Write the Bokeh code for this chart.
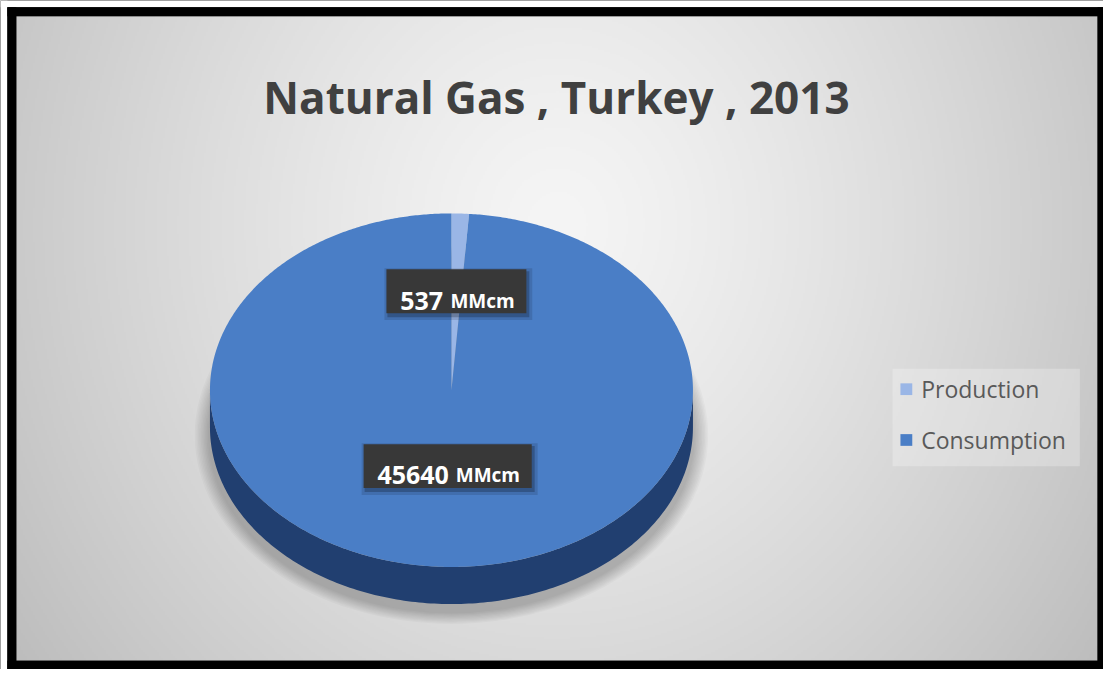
import numpy as np
from bokeh.plotting import figure
from bokeh.models import Range1d
from bokeh.embed import file_html
from bokeh.resources import INLINE
from bokeh.core.properties import value

# ---------------- data ----------------
title_text = "Natural Gas , Turkey , 2013"
categories = ["Production", "Consumption"]
values = [537, 45640]
unit = "MMcm"

# ---------------- style ----------------
top_colors = ["#9ab6e6", "#4a7ec6"]
side_colors = ["#5f80b6", "#213f70"]
FONT = value("Open Sans")

W, H = 1103, 669
RW, RH = 1119, 685          # reference picture coordinates mapped onto the canvas
IX0, IX1, IY0, IY1 = 16, 1113, 16, 676   # inner (grey) chart area

p = figure(width=W, height=H, output_backend="svg", toolbar_location=None,
           x_range=Range1d(0, RW), y_range=Range1d(-RH, 0),
           x_axis_location=None, y_axis_location=None,
           min_border=0, min_border_left=0, min_border_right=0,
           min_border_top=0, min_border_bottom=0)
p.grid.visible = False
p.outline_line_color = None
p.border_fill_color = "white"
p.background_fill_color = "black"

# background gradient
rows, cols = 330, 548
cc, rr = np.meshgrid(np.arange(cols), np.arange(rows))
PX = IX0 + (cc + 0.5) * (IX1 - IX0) / cols
PY = IY1 - (rr + 0.5) * (IY1 - IY0) / rows
d = np.sqrt(((PX - 565) / 620.0) ** 2 + ((PY - 230) / 700.0) ** 2)
lum = np.clip(245 - 50 * d ** 1.3, 0, 255).astype(np.uint8)
img = np.empty((rows, cols), dtype=np.uint32)
v = img.view(dtype=np.uint8).reshape((rows, cols, 4))
v[..., 0] = lum
v[..., 1] = lum
v[..., 2] = lum
v[..., 3] = 255
p.image_rgba(image=[img], x=IX0, y=-IY1, dw=IX1 - IX0, dh=IY1 - IY0)

# ---------------- pie geometry ----------------
cx, cy, rx, ry, depth = 457.5, 399.0, 245.0, 181.0, 38.0
vals = np.array(values, dtype=float)
frac = vals / vals.sum()
ends = np.cumsum(frac) * 360.0
starts = ends - frac * 360.0


def ell(theta_deg, dy=0.0, f=1.0):
    t = np.radians(theta_deg)
    return cx + f * rx * np.sin(t), -(cy - f * ry * np.cos(t) + dy)


# soft shadow below the pie
for k in range(10):
    grow = 4 + k * 3
    p.ellipse(x=cx, y=-(cy + depth + 8), width=2 * rx + grow, height=2 * ry + grow * 0.8,
              fill_color="black", fill_alpha=0.022, line_color=None)

# sides (front half only)
for i in range(len(vals)):
    a, b = max(starts[i], 90.0), min(ends[i], 270.0)
    if a < b:
        th = np.linspace(a, b, 200)
        xt, yt = ell(th)
        xb, yb = ell(th[::-1], dy=depth)
        p.patch(x=np.concatenate([xt, xb]), y=np.concatenate([yt, yb]),
                fill_color=side_colors[i], line_color=None)

# top faces
for i in range(len(vals)):
    th = np.linspace(starts[i], ends[i], max(int(frac[i] * 720), 4))
    xs, ys = ell(th)
    p.patch(x=np.concatenate([[cx], xs]), y=np.concatenate([[-cy], ys]),
            fill_color=top_colors[i], line_color=None)

# ---------------- data labels ----------------
label_radius = [0.56, 0.43]
num_fs, unit_fs, gap, pad, box_h = 25, 19, 8, 14, 45
for i in range(len(vals)):
    mid = (starts[i] + ends[i]) / 2
    lx, ly = ell(mid, f=label_radius[i])
    num = str(values[i])
    wn = len(num) * 0.572 * num_fs
    wu = 3.32 * unit_fs
    tw = wn + gap + wu
    bw = tw + 2 * pad
    p.rect(x=lx + 2, y=ly - 3, width=bw + 8, height=box_h + 8,
           fill_color="black", fill_alpha=0.12, line_color=None)
    p.rect(x=lx + 2, y=ly - 3, width=bw + 2, height=box_h + 2,
           fill_color="black", fill_alpha=0.22, line_color=None)
    p.rect(x=lx, y=ly, width=bw, height=box_h,
           fill_color="#383838", line_color=None)
    sx = lx - tw / 2
    base = ly - 9.5
    p.text(x=[sx], y=[base], text=[num], text_font=FONT, text_font_style="bold",
           text_font_size=f"{num_fs}px", text_color="white",
           text_align="left", text_baseline="alphabetic")
    p.text(x=[sx + wn + gap], y=[base], text=[unit], text_font=FONT, text_font_style="bold",
           text_font_size=f"{unit_fs}px", text_color="white",
           text_align="left", text_baseline="alphabetic")

# ---------------- title ----------------
p.text(x=[564], y=[-99], text=[title_text], text_font=FONT, text_font_style="bold",
       text_font_size="44px", text_color="#404040",
       text_align="center", text_baseline="alphabetic")

# ---------------- legend ----------------
p.quad(left=905, right=1095, top=-377, bottom=-477,
       fill_color="white", fill_alpha=0.25, line_color=None)
leg_y = [398, 450]
for i, cat in enumerate(categories):
    p.rect(x=919, y=-leg_y[i], width=12, height=12, fill_color=top_colors[i], line_color=None)
    p.text(x=[934], y=[-leg_y[i]], text=[cat], text_font=FONT, text_font_size="23px",
           text_color="#595959", text_align="left", text_baseline="middle")

# ---------------- frame ----------------
p.quad(left=[0, 0], right=[7, RW], top=[0, 0], bottom=[-RH, -7],
       fill_color="white", line_color=None)
p.quad(left=[7, 7, IX1, 7], right=[IX0, RW, RW, RW],
       top=[-7, -7, -7, -IY1], bottom=[-RH, -IY0, -RH, -RH],
       fill_color="black", line_color=None)

open("out.html", "w").write(file_html(p, INLINE))
